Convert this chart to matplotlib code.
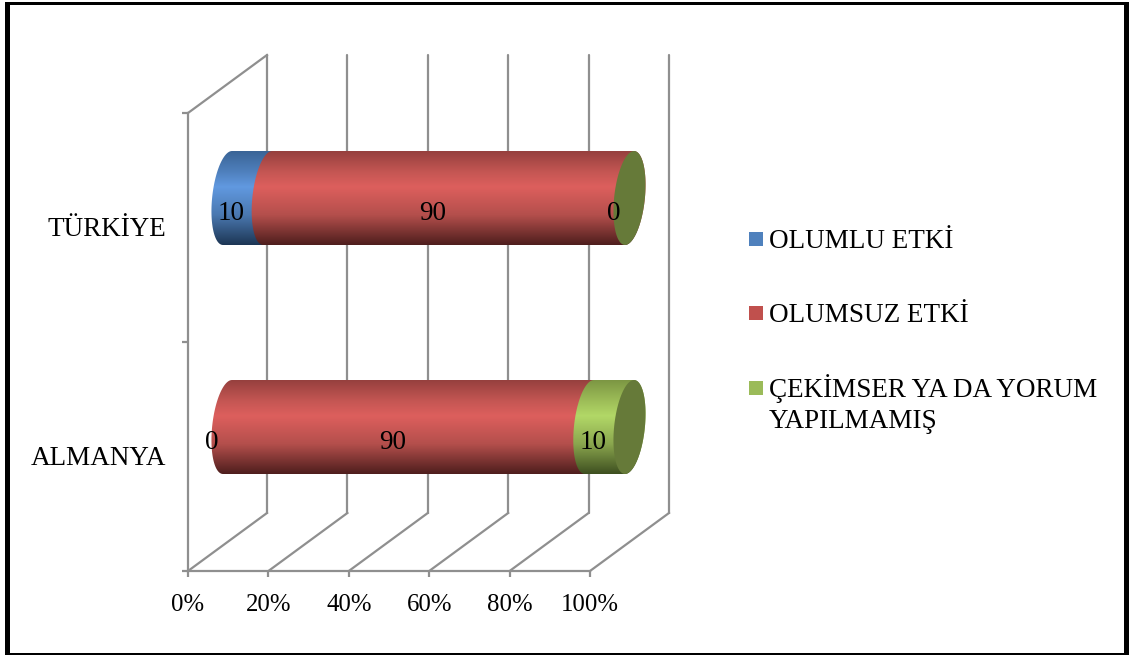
import numpy as np
import matplotlib
matplotlib.use("Agg")
import matplotlib.pyplot as plt
from matplotlib.colors import LinearSegmentedColormap
from matplotlib.patches import PathPatch, Polygon, Rectangle
from matplotlib.path import Path
from matplotlib.transforms import ScaledTranslation

categories = ["ALMANYA", "TÜRKİYE"]
series_names = ["OLUMLU ETKİ", "OLUMSUZ ETKİ", "ÇEKİMSER YA DA YORUM\nYAPILMAMIŞ"]
olumlu = [0, 10]
olumsuz = [90, 90]
cekimser = [10, 0]
series_values = [olumlu, olumsuz, cekimser]
x_ticks = [0, 20, 40, 60, 80, 100]
x_tick_labels = ["0%", "20%", "40%", "60%", "80%", "100%"]

legend_colors = ["#4f81bd", "#c0504d", "#9bbb59"]
gradients = [
    ["#3a6496", "#4f80bd", "#6199e0", "#4a78b0", "#1d3654"],
    ["#96403e", "#c45653", "#dd5f5d", "#b44f4c", "#4e1e1d"],
    ["#7c9643", "#9dbd58", "#b2d867", "#8aa64e", "#3e4f20"],
]
gradient_stops = [0.0, 0.22, 0.38, 0.68, 1.0]
cap_color = "#667a39"
grid_color = "#8f8f8f"
font = "Liberation Serif"
fs = 19.5
fs_tick = 17.8

W, H = 1129, 655
fig = plt.figure(figsize=(W / 100, H / 100), dpi=100)
fig.patch.set_facecolor("white")
plt.rcParams["font.family"] = font

L, R, T, B = 188, 590, 113, 571
ax = fig.add_axes([L / W, 1 - B / H, (R - L) / W, (B - T) / H])
ax.set_xlim(0, 100)
ax.set_ylim(-0.5, 1.5)
ax.patch.set_alpha(0)
for s in ["top", "right"]:
    ax.spines[s].set_visible(False)
for s in ["left", "bottom"]:
    ax.spines[s].set_color(grid_color)
    ax.spines[s].set_linewidth(1.6)
ax.set_xticks(x_ticks, x_tick_labels, fontsize=fs_tick, fontname=font)
ax.set_yticks([-0.5, 0.5, 1.5])
ax.set_yticklabels([])
ax.tick_params(axis="both", color=grid_color, width=1.6, length=4.5)
ax.tick_params(axis="x", pad=12)
for yc, cat in zip([0, 1], categories):
    ax.annotate(cat, (0, yc), xycoords="data", xytext=(-22 * 0.72, -2 * 0.72),
                textcoords="offset points", ha="right", va="center",
                fontsize=fs, fontname=font, color="black")


def shift(dx_px, dy_px):
    return ax.transData + ScaledTranslation(dx_px / 100, dy_px / 100, fig.dpi_scale_trans)


# walls: back plane and floor
back = shift(79, 58)
for xv in x_ticks:
    ax.plot([xv, xv], [-0.5, 1.5], transform=back, color=grid_color, lw=1.6,
            clip_on=False, zorder=1, solid_capstyle="round")
    fig.add_artist(plt.Line2D(
        *zip(ax.transData.transform((xv, -0.5)), back.transform((xv, -0.5))),
        transform=None, color=grid_color, lw=1.6, zorder=1))
fig.add_artist(plt.Line2D(
    *zip(ax.transData.transform((0, 1.5)), back.transform((0, 1.5))),
    transform=None, color=grid_color, lw=1.6, zorder=1))

# cylinders
mid = shift(39.5, 29.5)
a = 15.4 / 4.02
b = 47 / 229
sh = 4.5 / 4.02
half = 0.5 * np.pi


def arc(cx, cy, t0, t1, n=60):
    t = np.linspace(t0, t1, n)
    return np.c_[cx + a * np.cos(t) + sh * np.sin(t), cy + b * np.sin(t)]


for si, vals in enumerate(series_values):
    cmap = LinearSegmentedColormap.from_list(f"c{si}", list(zip(gradient_stops, gradients[si])))
    grad = np.linspace(0, 1, 256).reshape(-1, 1)
    for yi, v in enumerate(vals):
        if v == 0:
            continue
        start = sum(series_values[k][yi] for k in range(si))
        end = start + v
        pts = np.vstack([arc(start, yi, half, 3 * half), arc(end, yi, 3 * half, half + 2 * np.pi)])
        path = Path(np.vstack([pts, pts[0]]), closed=True)
        im = ax.imshow(grad, cmap=cmap, aspect="auto", interpolation="bilinear",
                       extent=[start - a - sh - 1, end + a + sh + 1, yi - b, yi + b],
                       origin="upper", transform=mid, zorder=3 + si)
        im.set_clip_box(fig.bbox)
        im.set_clip_path(PathPatch(path, transform=mid))
ax.set_xlim(0, 100)
ax.set_ylim(-0.5, 1.5)

for yi in range(len(categories)):
    total = sum(sv[yi] for sv in series_values)
    ax.add_patch(Polygon(arc(total, yi, 0, 2 * np.pi, 100), closed=True, transform=mid,
                         facecolor=cap_color, edgecolor="none", zorder=7, clip_on=False))

# data labels
lab = shift(23.5, 14)
for si, vals in enumerate(series_values):
    for yi, v in enumerate(vals):
        start = sum(series_values[k][yi] for k in range(si))
        ax.text(start + v / 2, yi, str(v), transform=lab, ha="center", va="center",
                fontsize=fs, fontname=font, color="black", zorder=9, clip_on=False)

# legend
for name, col, y, ty in zip(series_names, legend_colors, [239, 313, 388], [229, 303, 374]):
    fig.add_artist(Rectangle((749 / W, 1 - (y + 7) / H), 14 / W, 14 / H,
                             transform=fig.transFigure, facecolor=col, edgecolor="none"))
    fig.text(769 / W, 1 - ty / H, name, ha="left", va="top", fontsize=fs,
             fontname=font, color="black", linespacing=1.32)

# frame
for x0, y0, x1, y1 in [(5, 2, 1129, 5), (5, 653, 1129, 655), (5, 2, 10, 655), (1124, 2, 1129, 655)]:
    fig.add_artist(Rectangle((x0 / W, 1 - y1 / H), (x1 - x0) / W, (y1 - y0) / H,
                             transform=fig.transFigure, facecolor="black", edgecolor="none"))
fig.savefig("out.png", dpi=100)
